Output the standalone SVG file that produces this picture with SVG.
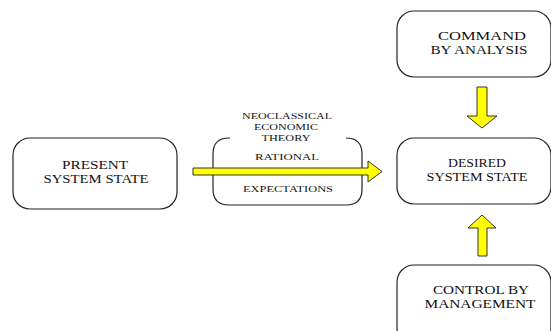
<svg xmlns="http://www.w3.org/2000/svg" width="551" height="331" viewBox="0 0 551 331">
<style>
.box{fill:#fff;stroke:#222;stroke-width:1.2}
.big{font-family:"Liberation Serif","DejaVu Serif",serif;font-size:13px;fill:#111;text-anchor:middle}
.small{font-family:"Liberation Serif","DejaVu Serif",serif;font-size:9px;fill:#111;text-anchor:middle}
.arrow{fill:#ffff00;stroke:#333;stroke-width:1;stroke-linejoin:miter}
</style>
<rect width="551" height="331" fill="#fff"/>
<g id="present">
<rect class="box" x="13" y="138" width="164" height="71" rx="17"/>
<text class="big" x="95" y="169" textLength="66" lengthAdjust="spacingAndGlyphs">PRESENT</text>
<text class="big" x="96" y="183" textLength="105" lengthAdjust="spacingAndGlyphs">SYSTEM STATE</text>
</g>
<g id="theory">
<path class="box" d="M230,138 L229,138 Q213,138 213,154 L213,189 Q213,205 229,205 L346,205 Q362,205 362,189 L362,154 Q362,138 346,138 L347,138" fill="none"/>
<text class="small" x="287" y="119" textLength="90" lengthAdjust="spacingAndGlyphs">NEOCLASSICAL</text>
<text class="small" x="286" y="130" textLength="64" lengthAdjust="spacingAndGlyphs">ECONOMIC</text>
<text class="small" x="286" y="141" textLength="49" lengthAdjust="spacingAndGlyphs">THEORY</text>
<text class="small" x="287" y="160" textLength="64" lengthAdjust="spacingAndGlyphs">RATIONAL</text>
<text class="small" x="288" y="192" textLength="90" lengthAdjust="spacingAndGlyphs">EXPECTATIONS</text>
</g>
<g id="command">
<rect class="box" x="397" y="11" width="154" height="66" rx="17"/>
<text class="big" x="482" y="40" textLength="88" lengthAdjust="spacingAndGlyphs">COMMAND</text>
<text class="big" x="479" y="54" textLength="97" lengthAdjust="spacingAndGlyphs">BY ANALYSIS</text>
</g>
<g id="desired">
<rect class="box" x="397" y="138" width="154" height="66" rx="17"/>
<text class="big" x="477" y="167" textLength="58" lengthAdjust="spacingAndGlyphs">DESIRED</text>
<text class="big" x="477" y="181" textLength="101" lengthAdjust="spacingAndGlyphs">SYSTEM STATE</text>
</g>
<g id="control">
<rect class="box" x="397" y="265" width="154" height="80" rx="17"/>
<text class="big" x="481" y="294" textLength="96" lengthAdjust="spacingAndGlyphs">CONTROL BY</text>
<text class="big" x="480" y="308" textLength="111" lengthAdjust="spacingAndGlyphs">MANAGEMENT</text>
</g>
<g id="connectors">
<polygon class="arrow" points="193,168 368,168 368,161 382,171.5 368,182 368,175 193,175"/>
<polygon class="arrow" points="477,87 487,87 487,116 497,116 482,128 467,116 477,116"/>
<polygon class="arrow" points="478,256 487,256 487,228 496,228 482,215 468,228 478,228"/>
</g>
</svg>
